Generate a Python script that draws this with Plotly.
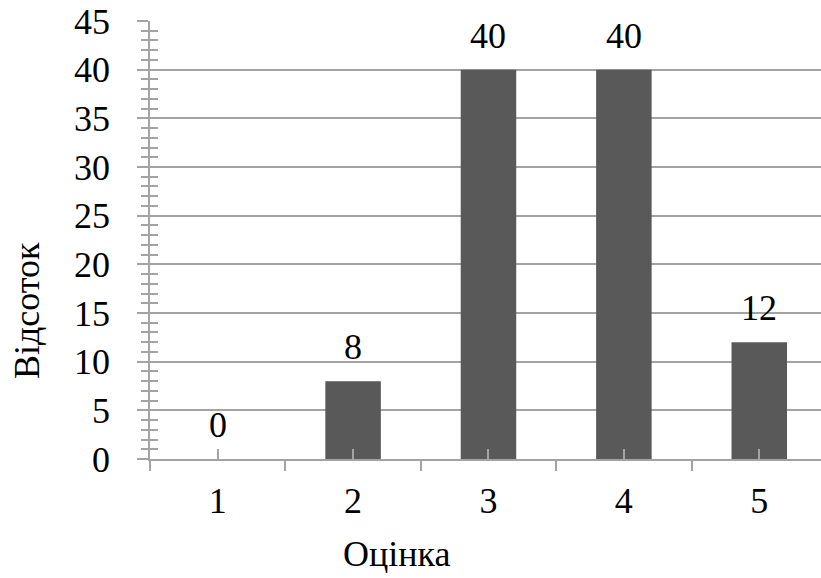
import plotly.graph_objects as go

grades = [1, 2, 3, 4, 5]
grade_labels = ["1", "2", "3", "4", "5"]
percent = [0, 8, 40, 40, 12]
y_ticks = [0, 5, 10, 15, 20, 25, 30, 35, 40, 45]
x_title = "Оцінка"
y_title = "Відсоток"

FONT = "Liberation Serif, Times New Roman, serif"
GRID = "#a3a3a3"
BAR = "#595959"
FS = 36

x_range = [0.5, 5.456]
y_range = [0, 45]

fig = go.Figure()
fig.add_trace(go.Bar(
    x=grades, y=percent, width=0.41, marker=dict(color=BAR, line=dict(width=0)),
    xaxis="x", yaxis="y", hoverinfo="skip",
))
# helper trace so the overlay axes (inner ticks) are drawn
fig.add_trace(go.Scatter(x=[1], y=[0], mode="markers", marker=dict(opacity=0),
                         xaxis="x2", yaxis="y2", hoverinfo="skip", showlegend=False))

# value labels above the bars
for g, v in zip(grades, percent):
    fig.add_annotation(x=g, y=v, xref="x", yref="y", text=str(v), showarrow=False,
                       yanchor="bottom", yshift=12, font=dict(family=FONT, size=FS, color="black"))

fig.update_layout(
    width=821, height=578,
    margin=dict(l=150, r=0, t=21, b=119),
    paper_bgcolor="white", plot_bgcolor="white",
    showlegend=False,
    font=dict(family=FONT, size=FS, color="black"),
    xaxis=dict(
        range=x_range, tickmode="array", tickvals=[0.5, 1.5, 2.5, 3.5, 4.5],
        showticklabels=False, ticks="outside", ticklen=10, tickwidth=1.5, tickcolor=GRID,
        showline=True, linecolor=GRID, linewidth=1.5, showgrid=False, zeroline=False,
    ),
    xaxis2=dict(
        range=x_range, overlaying="x", anchor="y", side="bottom",
        tickmode="array", tickvals=grades, ticktext=grade_labels,
        ticks="inside", ticklen=10, tickwidth=1.5, tickcolor=GRID,
        ticklabelstandoff=17, showline=False, showgrid=False, zeroline=False,
        tickfont=dict(family=FONT, size=FS, color="black"),
    ),
    yaxis=dict(
        range=y_range, tickmode="array", tickvals=y_ticks,
        ticks="outside", ticklen=11, tickwidth=1.5, tickcolor=GRID,
        minor=dict(ticks="outside", ticklen=7, tickwidth=1.5, tickcolor=GRID, dtick=1, showgrid=False),
        showline=True, linecolor=GRID, linewidth=1.5,
        showgrid=True, gridcolor=GRID, gridwidth=1.5, zeroline=False,
        ticklabelstandoff=20,
        tickfont=dict(family=FONT, size=FS, color="black"),
    ),
    yaxis2=dict(
        range=y_range, overlaying="y", anchor="x", side="left",
        showticklabels=False, ticks="", showgrid=False, zeroline=False, showline=False,
        minor=dict(ticks="inside", ticklen=8, tickwidth=1.5, tickcolor=GRID, dtick=1, showgrid=False),
    ),
)

# axis titles, positioned in paper coordinates of the plot area (150..821 x 21..459 px)
fig.add_annotation(x=(396 - 150) / 671, y=(459 - 554) / 438, xref="paper", yref="paper",
                   xanchor="center", yanchor="middle", text=x_title, showarrow=False,
                   font=dict(family=FONT, size=FS, color="black"))
fig.add_annotation(x=(27 - 150) / 671, y=(459 - 311) / 438, xref="paper", yref="paper",
                   xanchor="center", yanchor="middle", text=y_title, showarrow=False,
                   textangle=-90, font=dict(family=FONT, size=FS, color="black"))

fig.write_html("out.html")
